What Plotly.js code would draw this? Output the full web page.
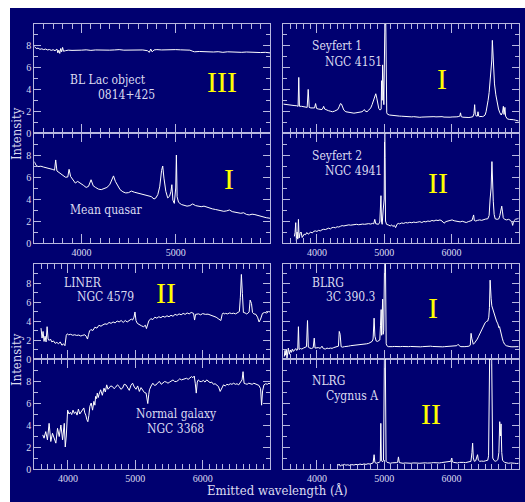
<!DOCTYPE html>
<html><head><meta charset="utf-8">
<script src="https://cdn.plot.ly/plotly-3.0.1.min.js"></script>
<style>html,body{margin:0;padding:0;background:#fff;}#chart{width:525px;height:502px;}</style>
</head><body><div id="chart"></div>
<script>
// ---------------- DATA (wavelength Å, intensity; off-scale peaks read as 10 = top of panel) ----------------
const blLac = [[3500,7.95],[3520,7.75],[3540,7.78],[3560,7.68],[3580,7.72],[3600,7.65],[3620,7.70],[3640,7.62],[3660,7.66],[3680,7.58],[3700,7.64],[3720,7.55],[3740,7.70],[3750,7.35],[3760,7.60],[3770,7.30],[3780,7.75],[3790,7.45],[3800,7.85],[3810,7.50],[3830,7.55],[3860,7.60],[3900,7.58],[3950,7.62],[4000,7.60],[4050,7.63],[4100,7.58],[4150,7.62],[4200,7.60],[4250,7.64],[4300,7.60],[4350,7.62],[4400,7.65],[4450,7.60],[4500,7.62],[4550,7.64],[4600,7.60],[4650,7.62],[4700,7.55],[4720,7.40],[4735,7.70],[4750,7.45],[4770,7.62],[4800,7.65],[4850,7.62],[4900,7.64],[4950,7.62],[5000,7.65],[5050,7.63],[5100,7.62],[5150,7.60],[5180,7.50],[5200,7.45],[5250,7.48],[5300,7.44],[5350,7.47],[5400,7.43],[5450,7.46],[5500,7.40],[5550,7.45],[5600,7.42],[5650,7.44],[5700,7.40],[5750,7.43],[5800,7.40],[5850,7.42],[5900,7.38],[5950,7.40],[6000,7.35]];

const meanQuasar = [[3500,7.40],[3520,7.05],[3540,6.95],[3570,6.98],[3600,6.90],[3630,6.85],[3660,6.78],[3690,6.70],[3715,6.62],[3727,7.55],[3740,6.55],[3770,6.35],[3800,6.10],[3830,5.98],[3855,6.00],[3869,6.70],[3885,6.05],[3910,5.75],[3935,5.45],[3960,5.60],[3990,5.45],[4020,5.25],[4050,5.05],[4075,5.15],[4102,5.75],[4125,5.20],[4150,5.05],[4180,4.90],[4210,4.85],[4240,4.95],[4270,5.05],[4300,5.30],[4320,5.70],[4340,6.10],[4360,5.60],[4385,5.15],[4410,4.85],[4440,4.65],[4470,4.55],[4500,4.58],[4530,4.72],[4560,4.62],[4590,4.55],[4620,4.48],[4650,4.45],[4680,4.38],[4710,4.30],[4740,4.22],[4770,4.00],[4790,4.10],[4810,4.40],[4830,5.10],[4850,6.60],[4862,7.00],[4875,5.90],[4895,4.70],[4915,4.10],[4935,4.25],[4950,4.70],[4959,5.30],[4970,3.90],[4985,3.60],[5000,5.00],[5007,8.00],[5015,4.20],[5030,3.70],[5060,3.50],[5090,3.42],[5120,3.35],[5150,3.40],[5180,3.55],[5210,3.40],[5240,3.32],[5270,3.30],[5300,3.35],[5330,3.25],[5360,3.20],[5390,3.10],[5420,3.05],[5450,3.00],[5480,2.95],[5510,2.88],[5540,2.92],[5570,3.00],[5600,2.85],[5630,2.80],[5660,2.75],[5690,2.70],[5720,2.75],[5750,2.60],[5780,2.55],[5810,2.62],[5840,2.58],[5870,2.50],[5900,2.45],[5930,2.40],[5960,2.30],[6000,2.25]];

const liner = [[3600,3.25],[3615,2.20],[3630,2.90],[3645,1.85],[3660,2.40],[3675,1.80],[3690,3.40],[3705,2.10],[3720,1.95],[3740,2.10],[3760,1.80],[3785,1.90],[3810,1.65],[3835,1.75],[3860,1.60],[3885,1.80],[3910,1.45],[3935,1.60],[3955,1.40],[3975,2.50],[3990,2.65],[4010,2.55],[4040,2.60],[4070,2.50],[4100,2.55],[4130,2.48],[4160,2.52],[4190,2.42],[4220,2.50],[4250,2.55],[4270,2.40],[4290,2.10],[4305,2.55],[4320,2.95],[4340,3.10],[4370,3.00],[4400,3.35],[4430,3.25],[4460,3.55],[4490,3.45],[4520,3.60],[4550,3.70],[4580,3.65],[4610,3.85],[4640,3.75],[4670,3.90],[4700,3.80],[4730,4.00],[4760,3.90],[4790,4.05],[4820,3.85],[4850,4.05],[4880,3.90],[4910,4.10],[4940,4.20],[4960,4.10],[4980,4.40],[4995,4.95],[5010,4.05],[5030,3.75],[5060,3.60],[5090,3.50],[5120,3.40],[5150,3.55],[5165,3.20],[5180,3.60],[5200,4.00],[5230,4.25],[5260,4.15],[5290,4.40],[5320,4.30],[5350,4.45],[5380,4.35],[5410,4.50],[5440,4.40],[5470,4.55],[5500,4.45],[5530,4.60],[5560,4.50],[5590,4.70],[5620,4.60],[5650,4.75],[5680,4.65],[5710,4.80],[5740,4.70],[5770,4.85],[5800,4.75],[5830,4.90],[5865,4.80],[5880,4.10],[5895,4.70],[5940,4.75],[5970,4.65],[6000,4.78],[6040,4.70],[6080,4.72],[6120,4.60],[6160,4.55],[6200,4.40],[6240,4.20],[6270,4.05],[6290,4.70],[6305,4.85],[6320,4.75],[6340,4.80],[6370,4.75],[6400,4.85],[6430,4.78],[6460,4.82],[6490,4.75],[6520,4.90],[6545,5.00],[6560,6.50],[6575,8.90],[6590,6.90],[6605,4.90],[6630,4.85],[6650,4.75],[6670,4.80],[6690,4.95],[6705,6.20],[6725,5.85],[6740,4.90],[6760,4.75],[6790,4.70],[6815,4.40],[6838,3.90],[6860,4.20],[6888,4.80],[6920,4.90],[6950,4.85],[6980,5.00],[7000,4.95]];

const normalGalaxy = [[3625,3.10],[3645,2.80],[3670,3.40],[3695,2.65],[3720,4.15],[3745,2.50],[3770,3.25],[3795,2.80],[3820,2.35],[3845,3.70],[3870,2.95],[3895,4.00],[3920,2.65],[3945,4.15],[3960,2.00],[3975,3.00],[3995,5.35],[4015,5.00],[4035,5.15],[4055,4.95],[4075,5.35],[4095,5.05],[4115,5.20],[4135,4.90],[4155,5.45],[4175,5.00],[4195,5.15],[4215,5.30],[4235,5.55],[4250,5.10],[4265,4.90],[4280,4.50],[4295,4.30],[4310,4.85],[4325,5.70],[4345,6.00],[4365,5.35],[4385,6.15],[4400,5.80],[4410,6.60],[4425,6.40],[4435,6.90],[4450,6.50],[4460,6.75],[4485,7.20],[4510,6.70],[4535,7.35],[4555,7.00],[4575,7.65],[4595,7.25],[4610,7.35],[4635,7.55],[4660,7.50],[4685,7.30],[4710,7.45],[4735,7.65],[4760,7.50],[4785,7.25],[4810,7.35],[4835,7.70],[4860,7.65],[4885,7.35],[4910,7.15],[4935,7.60],[4960,7.80],[4985,7.45],[5010,7.25],[5035,7.55],[5060,7.05],[5085,7.40],[5110,7.20],[5135,6.95],[5160,6.90],[5185,5.95],[5200,6.80],[5210,7.20],[5235,7.55],[5260,7.80],[5285,7.60],[5310,7.65],[5335,7.85],[5360,7.95],[5385,7.70],[5410,7.80],[5435,7.95],[5460,7.90],[5485,7.80],[5510,7.90],[5535,8.00],[5560,8.10],[5585,7.95],[5610,7.95],[5635,8.05],[5660,8.20],[5685,8.10],[5710,8.15],[5735,8.25],[5760,8.25],[5785,8.15],[5810,8.30],[5835,8.40],[5855,8.30],[5875,8.45],[5890,7.80],[5905,6.90],[5920,7.90],[5935,8.10],[5960,7.95],[5985,7.95],[6010,8.05],[6035,7.90],[6060,8.10],[6085,7.95],[6110,7.85],[6135,7.90],[6160,7.70],[6185,7.75],[6210,7.65],[6235,7.50],[6260,7.05],[6285,7.40],[6310,7.65],[6335,7.55],[6360,7.70],[6385,7.65],[6410,7.75],[6435,7.70],[6460,7.80],[6485,7.70],[6510,7.75],[6535,7.65],[6560,7.85],[6585,8.10],[6600,8.85],[6615,7.80],[6635,7.75],[6660,7.70],[6685,7.80],[6710,7.75],[6735,7.70],[6760,7.80],[6785,7.75],[6810,7.65],[6835,7.60],[6860,7.30],[6875,5.80],[6890,7.10],[6910,7.65],[6935,7.75],[6960,7.70],[6985,7.80],[7000,7.75]];

const seyfert1 = [[3500,2.65],[3540,2.60],[3580,2.58],[3620,2.55],[3660,2.52],[3700,2.50],[3720,2.45],[3730,5.10],[3740,2.45],[3770,2.45],[3800,2.40],[3830,2.40],[3855,2.35],[3870,4.00],[3885,2.35],[3910,2.30],[3940,2.28],[3965,2.30],[3980,2.70],[3995,2.25],[4020,2.20],[4050,2.18],[4075,2.15],[4090,2.30],[4100,2.45],[4115,2.20],[4140,2.10],[4170,2.05],[4200,2.00],[4230,1.95],[4260,2.00],[4290,2.05],[4310,2.15],[4330,2.40],[4350,2.70],[4365,2.65],[4380,2.45],[4400,2.10],[4430,1.95],[4460,1.90],[4490,1.85],[4520,1.85],[4550,1.82],[4580,1.85],[4610,1.88],[4640,1.90],[4670,1.95],[4690,2.05],[4705,2.15],[4720,2.00],[4745,1.95],[4770,2.10],[4800,2.30],[4820,2.60],[4840,3.00],[4860,3.40],[4875,3.60],[4890,3.20],[4905,2.60],[4920,2.25],[4940,2.10],[4955,2.20],[4962,4.80],[4970,3.00],[4977,6.25],[4987,3.20],[4995,2.60],[5010,10],[5024,10],[5038,1.85],[5050,1.72],[5080,1.65],[5110,1.62],[5140,1.58],[5170,1.55],[5200,1.57],[5230,1.55],[5260,1.54],[5290,1.52],[5320,1.55],[5350,1.52],[5380,1.50],[5410,1.48],[5440,1.50],[5470,1.46],[5500,1.45],[5530,1.44],[5560,1.46],[5590,1.47],[5620,1.46],[5650,1.50],[5680,1.52],[5710,1.55],[5740,1.50],[5770,1.48],[5800,1.50],[5830,1.52],[5860,1.50],[5890,1.46],[5920,1.44],[5950,1.48],[5980,1.45],[6010,1.47],[6040,1.45],[6070,1.48],[6100,1.50],[6125,1.55],[6135,1.85],[6145,1.50],[6170,1.45],[6200,1.42],[6230,1.40],[6260,1.42],[6290,1.45],[6320,1.50],[6335,1.80],[6345,2.60],[6355,1.70],[6370,1.55],[6385,1.55],[6395,1.95],[6405,1.55],[6420,1.50],[6440,1.52],[6460,1.50],[6480,1.55],[6500,1.65],[6515,1.95],[6530,2.40],[6545,3.00],[6560,3.70],[6575,4.80],[6590,6.00],[6600,6.70],[6608,8.50],[6615,7.20],[6625,5.80],[6640,4.50],[6660,3.50],[6680,2.80],[6700,2.20],[6720,1.85],[6740,1.65],[6760,1.90],[6772,2.45],[6782,1.70],[6795,2.35],[6805,1.55],[6830,1.30],[6860,1.25],[6890,1.20],[6920,1.22],[6950,1.18],[6980,1.12],[7000,1.10]];

const seyfert2 = [[3665,0.60],[3675,0.95],[3685,1.85],[3695,0.20],[3705,1.00],[3715,0.35],[3725,2.15],[3735,0.45],[3750,0.90],[3765,1.00],[3780,0.50],[3795,0.65],[3810,0.80],[3830,0.75],[3850,0.95],[3870,0.80],[3890,0.90],[3910,1.00],[3930,0.90],[3950,1.05],[3975,1.10],[4000,1.05],[4025,1.15],[4050,1.10],[4075,1.20],[4100,1.25],[4125,1.22],[4150,1.30],[4175,1.35],[4200,1.28],[4225,1.40],[4250,1.42],[4275,1.38],[4300,1.48],[4325,1.45],[4350,1.52],[4375,1.58],[4400,1.55],[4425,1.60],[4450,1.58],[4475,1.65],[4500,1.62],[4530,1.66],[4560,1.64],[4590,1.70],[4620,1.66],[4650,1.70],[4680,1.72],[4710,1.70],[4740,1.74],[4770,1.76],[4800,1.72],[4825,1.78],[4845,1.75],[4860,2.15],[4875,1.75],[4895,1.72],[4915,1.70],[4935,1.90],[4945,3.80],[4952,4.30],[4960,2.00],[4970,1.70],[4985,3.00],[5000,4.00],[5006,10],[5010,10],[5014,7.80],[5020,2.00],[5035,1.70],[5050,1.68],[5070,1.62],[5090,1.55],[5110,1.65],[5130,1.50],[5150,1.60],[5170,1.40],[5190,1.70],[5210,1.78],[5230,1.74],[5260,1.82],[5290,1.78],[5320,1.86],[5350,1.82],[5380,1.88],[5410,1.84],[5440,1.90],[5470,1.86],[5500,1.90],[5530,1.94],[5560,1.86],[5590,1.96],[5620,1.92],[5650,2.00],[5680,1.96],[5710,2.05],[5740,2.00],[5770,2.08],[5800,2.04],[5830,2.10],[5860,2.00],[5890,1.80],[5920,1.95],[5950,2.02],[5980,2.06],[6010,2.10],[6040,2.02],[6070,2.00],[6100,1.96],[6130,1.92],[6160,1.98],[6190,1.90],[6220,1.86],[6250,1.94],[6280,2.00],[6305,2.05],[6320,2.35],[6330,2.55],[6340,2.05],[6360,2.00],[6390,2.06],[6420,2.10],[6450,2.06],[6480,2.14],[6510,2.18],[6540,2.20],[6560,2.50],[6575,4.00],[6590,5.00],[6602,7.40],[6612,5.20],[6622,3.80],[6635,2.60],[6650,2.20],[6680,2.15],[6705,2.20],[6720,2.50],[6735,3.10],[6748,3.35],[6758,2.90],[6770,2.30],[6790,2.15],[6820,2.10],[6850,2.15],[6880,2.05],[6900,1.85],[6910,1.60],[6925,2.00],[6950,2.15],[6980,2.20],[7000,2.25]];

const blrg = [[3515,0.25],[3525,0.90],[3535,0.40],[3545,1.05],[3555,0.10],[3565,0.80],[3575,1.15],[3590,0.50],[3605,0.95],[3620,0.70],[3635,1.05],[3650,0.80],[3665,1.00],[3685,1.10],[3700,0.90],[3715,1.05],[3725,3.40],[3735,1.00],[3755,1.10],[3775,1.05],[3800,1.15],[3825,1.20],[3845,1.30],[3860,4.05],[3872,1.25],[3895,1.15],[3920,1.10],[3945,1.20],[3960,2.20],[3972,1.15],[3995,1.15],[4020,1.20],[4050,1.12],[4075,1.35],[4095,1.10],[4125,1.05],[4150,1.15],[4175,1.10],[4200,1.15],[4225,1.12],[4250,1.20],[4275,1.25],[4300,1.30],[4320,1.35],[4332,2.90],[4345,2.60],[4360,1.30],[4380,1.25],[4410,1.30],[4440,1.30],[4470,1.35],[4500,1.40],[4530,1.42],[4560,1.45],[4590,1.45],[4620,1.50],[4650,1.52],[4680,1.55],[4710,1.58],[4740,1.60],[4770,1.65],[4800,1.75],[4820,1.85],[4835,2.10],[4850,4.30],[4862,2.40],[4880,1.90],[4900,1.85],[4920,1.95],[4935,2.00],[4945,3.50],[4955,5.20],[4962,2.50],[4970,4.20],[4977,6.30],[4985,2.60],[4993,3.00],[5005,10],[5019,10],[5030,1.60],[5040,1.40],[5060,1.30],[5090,1.28],[5120,1.30],[5150,1.32],[5180,1.30],[5210,1.28],[5240,1.30],[5270,1.32],[5300,1.30],[5330,1.28],[5360,1.30],[5390,1.32],[5420,1.30],[5450,1.35],[5480,1.32],[5510,1.30],[5540,1.28],[5570,1.30],[5600,1.32],[5630,1.35],[5660,1.38],[5690,1.35],[5720,1.32],[5750,1.30],[5780,1.35],[5810,1.32],[5840,1.30],[5870,1.28],[5900,1.30],[5930,1.32],[5960,1.35],[5990,1.30],[6020,1.32],[6050,1.35],[6080,1.40],[6100,1.55],[6115,1.40],[6140,1.30],[6170,1.28],[6200,1.30],[6230,1.32],[6260,1.35],[6280,1.45],[6292,2.70],[6302,2.20],[6312,1.65],[6325,1.55],[6345,1.70],[6365,1.85],[6385,2.10],[6405,2.40],[6425,2.70],[6450,3.05],[6475,3.50],[6500,3.80],[6520,3.95],[6540,4.00],[6555,4.40],[6565,5.40],[6575,8.30],[6583,6.50],[6590,6.40],[6600,5.60],[6615,5.20],[6630,4.80],[6650,4.40],[6670,4.00],[6690,3.70],[6705,3.30],[6715,3.40],[6725,3.00],[6740,2.60],[6755,2.20],[6770,1.85],[6790,1.55],[6815,1.40],[6840,1.32],[6870,1.30],[6900,1.28],[6930,1.30],[6960,1.28],[7000,1.30]];

const nlrg = [[4310,0.30],[4330,0.45],[4350,0.25],[4370,0.40],[4390,0.30],[4410,0.42],[4430,0.35],[4460,0.38],[4490,0.32],[4520,0.40],[4550,0.36],[4580,0.42],[4610,0.38],[4640,0.45],[4670,0.40],[4700,0.46],[4730,0.42],[4760,0.48],[4790,0.45],[4815,0.50],[4835,0.55],[4850,1.30],[4862,0.60],[4880,0.52],[4905,0.55],[4925,0.60],[4942,0.70],[4950,4.15],[4958,0.80],[4975,0.65],[4990,0.80],[5003,10],[5017,10],[5028,0.70],[5040,0.62],[5060,0.55],[5090,0.52],[5120,0.56],[5150,0.54],[5180,0.58],[5200,0.60],[5212,1.10],[5225,0.58],[5250,0.55],[5280,0.52],[5310,0.55],[5340,0.52],[5370,0.54],[5400,0.52],[5430,0.55],[5460,0.57],[5490,0.54],[5520,0.52],[5550,0.55],[5580,0.53],[5610,0.56],[5640,0.54],[5670,0.52],[5700,0.55],[5730,0.58],[5760,0.55],[5790,0.52],[5820,0.55],[5850,0.58],[5880,0.60],[5910,0.58],[5940,0.62],[5970,0.65],[5990,0.70],[6005,1.00],[6015,0.65],[6035,0.60],[6060,0.58],[6090,0.55],[6120,0.60],[6150,0.62],[6180,0.60],[6210,0.58],[6240,0.62],[6270,0.65],[6290,0.70],[6305,1.50],[6315,2.35],[6325,1.00],[6340,0.70],[6360,0.75],[6375,1.00],[6388,1.30],[6400,0.80],[6420,0.70],[6450,0.72],[6480,0.70],[6510,0.75],[6540,0.80],[6552,1.20],[6568,10],[6598,10],[6614,1.00],[6630,0.80],[6650,0.70],[6670,0.75],[6690,0.85],[6705,1.50],[6718,4.30],[6728,3.00],[6738,4.10],[6748,1.50],[6760,0.80],[6790,0.60],[6820,0.55],[6850,0.52],[6880,0.55],[6910,0.50],[6940,0.52],[6970,0.50],[7000,0.52]];

const panelNames  = ['BL Lac object','Mean quasar','LINER','Normal galaxy','Seyfert 1','Seyfert 2','BLRG','NLRG'];
const objectNames = ['0814+425','','NGC 4579','NGC 3368','NGC 4151','NGC 4941','3C 390.3','Cygnus A'];
const classes     = ['III','I','II','II','I','II','I','II'];
const xTickVals   = [[4000,5000],[4000,5000,6000]];
const yTickVals   = [0,2,4,6,8];
const xTitle = 'Emitted wavelength (Å)';
const yTitle = 'Intensity';

// ---------------- LAYOUT ----------------
const W=525, H=502;
const NAVY='#000070', FRAME='#b8b8e0', TXT='#dcdcf0';
const fx = p => p/W, fy = p => 1 - p/H;
const colX=[[34.3,270],[283.3,518.7]];
const rowY=[[24,133],[133,243],[264,359],[359,469]];
const spectra=[blLac,meanQuasar,liner,normalGalaxy,seyfert1,seyfert2,blrg,nlrg];
const cfg=[
 {c:0,r:0,xr:[3500,6000],xt:0,xl:false},
 {c:0,r:1,xr:[3500,6000],xt:0,xl:true},
 {c:0,r:2,xr:[3500,7000],xt:1,xl:false},
 {c:0,r:3,xr:[3500,7000],xt:1,xl:true},
 {c:1,r:0,xr:[3500,7000],xt:1,xl:false},
 {c:1,r:1,xr:[3500,7000],xt:1,xl:true},
 {c:1,r:2,xr:[3500,7000],xt:1,xl:false},
 {c:1,r:3,xr:[3500,7000],xt:1,xl:true}
];
const tickFont={family:'Liberation Serif, DejaVu Serif, serif',size:10,color:TXT};
const layout={width:W,height:H,margin:{l:0,r:0,t:0,b:0},paper_bgcolor:'#ffffff',plot_bgcolor:NAVY,
  showlegend:false,shapes:[{type:'rect',xref:'paper',yref:'paper',x0:fx(10),x1:1,y0:0,y1:fy(8),
  fillcolor:NAVY,line:{width:0},layer:'below'}],annotations:[]};
const traces=[];
spectra.forEach((d,i)=>{
  const n=i+1, s=(n===1?'':String(n)), c=cfg[i];
  layout['xaxis'+s]={domain:[fx(colX[c.c][0]),fx(colX[c.c][1])],anchor:'y'+s,range:c.xr,
    showline:true,linecolor:FRAME,linewidth:1,mirror:'ticks',ticks:'inside',ticklen:9,tickcolor:FRAME,tickwidth:1,
    tickmode:'array',tickvals:xTickVals[c.xt],showticklabels:c.xl,tickfont:tickFont,
    minor:{ticks:'inside',ticklen:5,tickcolor:FRAME,tickwidth:1,tick0:0,dtick:100,showgrid:false},
    showgrid:false,zeroline:false,fixedrange:true};
  layout['yaxis'+s]={domain:[fy(rowY[c.r][1]),fy(rowY[c.r][0])],anchor:'x'+s,range:[0,10],
    showline:true,linecolor:FRAME,linewidth:1,mirror:'ticks',ticks:'inside',ticklen:7,tickcolor:FRAME,tickwidth:1,
    tickmode:'array',tickvals:yTickVals,showticklabels:c.c===0,tickfont:tickFont,
    minor:{ticks:'inside',ticklen:4,tickcolor:FRAME,tickwidth:1,tick0:1,dtick:2,showgrid:false},
    showgrid:false,zeroline:false,fixedrange:true};
  traces.push({x:d.map(p=>p[0]),y:d.map(p=>p[1]),xaxis:'x'+s,yaxis:'y'+s,type:'scatter',mode:'lines',
    line:{color:'#ffffff',width:1},hoverinfo:'skip'});
});
const namePos=[[68,80,'left'],[68,210,'left'],[62,283,'left'],[176,414,'center'],[310,46,'left'],[310,156,'left'],[310,283,'left'],[310,381,'left']];
const objPos =[[96,95,'left'],[0,0,'left'],[75,297,'left'],[175,429,'center'],[323,62,'left'],[323,171,'left'],[324,297,'left'],[324,396,'left']];
const clsPos =[[222,82],[229,178],[166,292],[0,0],[442,79],[438,182],[433,307],[431,413]];
const lblFont={family:'DejaVu Serif Condensed, DejaVu Serif, serif',size:12,color:TXT};
const ann=layout.annotations;
for(let i=0;i<8;i++){
  ann.push({xref:'paper',yref:'paper',x:fx(namePos[i][0]),y:fy(namePos[i][1]),xanchor:namePos[i][2],yanchor:'middle',
    text:panelNames[i],showarrow:false,font:lblFont});
  if(objectNames[i]) ann.push({xref:'paper',yref:'paper',x:fx(objPos[i][0]),y:fy(objPos[i][1]),xanchor:objPos[i][2],yanchor:'middle',
    text:objectNames[i],showarrow:false,font:lblFont});
  if(i!==3) ann.push({xref:'paper',yref:'paper',x:fx(clsPos[i][0]),y:fy(clsPos[i][1]),xanchor:'center',yanchor:'middle',
    text:classes[i],showarrow:false,font:{family:'Liberation Serif, serif',size:30,color:'#ffff00'}});
}
const axFont={family:'DejaVu Serif Condensed, DejaVu Serif, serif',size:13,color:TXT};
ann.push({xref:'paper',yref:'paper',x:fx(16),y:fy(134),xanchor:'center',yanchor:'middle',text:yTitle,textangle:-90,showarrow:false,font:axFont});
ann.push({xref:'paper',yref:'paper',x:fx(16),y:fy(360),xanchor:'center',yanchor:'middle',text:yTitle,textangle:-90,showarrow:false,font:axFont});
ann.push({xref:'paper',yref:'paper',x:fx(277),y:fy(490),xanchor:'center',yanchor:'middle',text:xTitle,showarrow:false,font:axFont});

Plotly.newPlot('chart',traces,layout,{staticPlot:true,displayModeBar:false});
</script></body></html>
